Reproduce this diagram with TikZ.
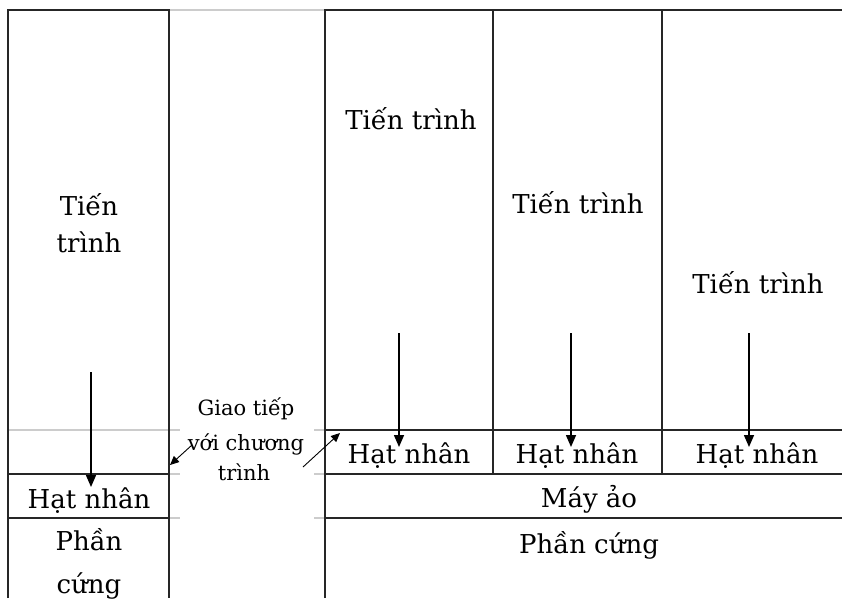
\documentclass[tikz,border=0pt]{standalone}
\usepackage{fontspec}
\setmainfont{DejaVu Serif}
\usetikzlibrary{arrows.meta}
\begin{document}
\begin{tikzpicture}[x=1pt,y=-1pt,
  wall/.style={line width=1.5pt,black!85},
  faint/.style={line width=1.2pt,black!20},
  lbl/.style={font=\fontsize{26}{30}\selectfont,anchor=base,inner sep=0pt},
  small/.style={font=\fontsize{21}{25}\selectfont,anchor=base,inner sep=0pt},
  down/.style={line width=1.5pt,-{Triangle[length=12pt,width=10pt]}},
  thin/.style={line width=0.9pt,-{Triangle[length=9pt,width=8pt]}}]
\useasboundingbox (0,0) rectangle (842,598);
\fill[white] (0,0) rectangle (842,598);
% faint guide lines
\draw[faint] (169,10) -- (325,10);
\draw[faint] (8,430) -- (180,430);
\draw[faint] (169,474) -- (180,474);
\draw[faint] (169,518) -- (180,518);
\draw[faint] (314,430) -- (325,430);
\draw[faint] (314,474) -- (325,474);
\draw[faint] (314,518) -- (325,518);
% walls
\draw[wall] (8,598) -- (8,10) -- (169,10) -- (169,598);
\draw[wall] (325,598) -- (325,10) -- (842,10);
\draw[wall] (493,10) -- (493,474);
\draw[wall] (662,10) -- (662,474);
\draw[wall] (8,474) -- (169,474);
\draw[wall] (8,518) -- (169,518);
\draw[wall] (325,430) -- (842,430);
\draw[wall] (325,474) -- (842,474);
\draw[wall] (325,518) -- (842,518);
% left stack
\node[lbl] (tl1) at (89,215) {Tiến};
\node[lbl] (tl2) at (89,252) {trình};
\node[lbl] (hl) at (89,508) {Hạt nhân};
\node[lbl] (pl1) at (89,550) {Phần};
\node[lbl] (pl2) at (89,593) {cứng};
% middle label
\node[small] (g1) at (246,415) {Giao tiếp};
\node[small] (g2) at (246,450) {với chương};
\node[small] (g3) at (244,480) {trình};
% right stack
\node[lbl] (t1) at (411,129) {Tiến trình};
\node[lbl] (t2) at (578,213) {Tiến trình};
\node[lbl] (t3) at (758,293) {Tiến trình};
\node[lbl] (h1) at (409,463) {Hạt nhân};
\node[lbl] (h2) at (577,463) {Hạt nhân};
\node[lbl] (h3) at (757,463) {Hạt nhân};
\node[lbl] (vm) at (589,507) {Máy ảo};
\node[lbl] (hw) at (589,553) {Phần cứng};
% arrow ends
\coordinate (a0s) at (91,372);  \coordinate (a0e) at (91,487);
\coordinate (a1s) at (399,333); \coordinate (a1e) at (399,447);
\coordinate (a2s) at (571,333); \coordinate (a2e) at (571,447);
\coordinate (a3s) at (749,333); \coordinate (a3e) at (749,447);
\coordinate (ls) at (192,445);  \coordinate (le) at (170,465);
\coordinate (rs) at (303,467);  \coordinate (re) at (340,433);
\draw[down] (a0s) -- (a0e);
\draw[down] (a1s) -- (a1e);
\draw[down] (a2s) -- (a2e);
\draw[down] (a3s) -- (a3e);
\draw[thin] (ls) -- (le);
\draw[thin] (rs) -- (re);
\end{tikzpicture}
\end{document}
